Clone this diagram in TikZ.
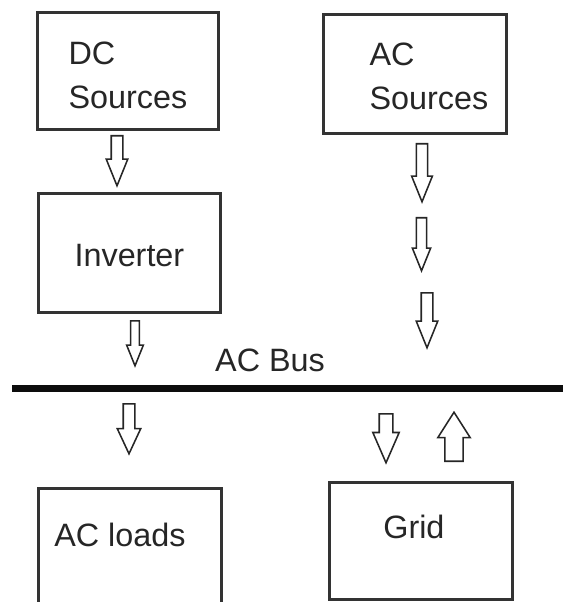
\documentclass[tikz,border=0pt]{standalone}
\usepackage{fontspec}
\setmainfont{Liberation Sans}
\usetikzlibrary{shapes.arrows}

\begin{document}
\begin{tikzpicture}[
    x=0.025cm, y=-0.025cm,
    box/.style={rectangle, draw=black!80, line width=2pt, anchor=north west, align=left, inner xsep=0pt, inner ysep=0pt, minimum width=4.55cm, font=\fontsize{23}{31}\selectfont, text=black!85},
    flow/.style={single arrow, draw=black!85, fill=white, line width=1.1pt, anchor=tail, inner xsep=0pt, inner ysep=0.125cm, minimum width=0pt, single arrow head extend=0.125cm, single arrow tip angle=44, minimum height=1.25cm},
    flowdown/.style={flow, rotate=-90},
    flowup/.style={flow, rotate=90},
    busline/.style={line width=4.5pt, black!95},
]
    \useasboundingbox (0,0) rectangle (563,602);

    % Nodes
    \node[box, minimum width=4.525cm, text height=2.4cm, text depth=0.525cm] (dc) at (36,11) {DC\\Sources};
    \node[box, minimum width=4.575cm, text height=2.375cm, text depth=0.6cm] (acsrc) at (322,13) {\hspace*{0.7cm}AC\\\hspace*{0.7cm}Sources};
    \node[box, text height=1.825cm, text depth=1.15cm] (inverter) at (37,192) {Inverter};
    \node[box, minimum width=4.575cm, text height=1.45cm, text depth=1.7cm] (loads) at (37,487) {AC loads\hspace*{0.5cm}};
    \node[box, minimum width=4.575cm, text height=1.4cm, text depth=1.525cm] (grid) at (328,481) {Grid\hspace*{0.35cm}};

    % Bus
    \coordinate (busw) at (12,388.5);
    \coordinate (buse) at (563,388.5);
    \node[anchor=base, font=\fontsize{23}{31}\selectfont, text=black!85] (buslabel) at (270,371) {AC Bus};

    % Block arrows (placed by their tails)
    \node[flowdown] (a1) at (117,135) {};
    \node[flowdown, minimum height=1.45cm, inner ysep=0.12cm, single arrow head extend=0.12cm] (a2) at (422,143) {};
    \node[flowdown, minimum height=1.325cm, inner ysep=0.11cm, single arrow head extend=0.1cm] (a3) at (421.5,217) {};
    \node[flowdown, minimum height=1.375cm] (a4) at (427,292) {};
    \node[flowdown, minimum height=1.125cm, inner ysep=0.09cm, single arrow head extend=0.1cm] (a5) at (135,320) {};
    \node[flowdown, single arrow head extend=0.15cm, single arrow tip angle=50] (a6) at (129,403) {};
    \node[flowdown, minimum height=1.225cm, inner ysep=0.15cm, single arrow head extend=0.16cm, single arrow tip angle=47] (a7) at (386,413) {};
    \node[flowup, minimum height=1.225cm, inner ysep=0.21cm, single arrow head extend=0.175cm, single arrow tip angle=65] (a8) at (454,462) {};

    % Lines
    \draw[busline] (busw) -- (buse);
\end{tikzpicture}
\end{document}
